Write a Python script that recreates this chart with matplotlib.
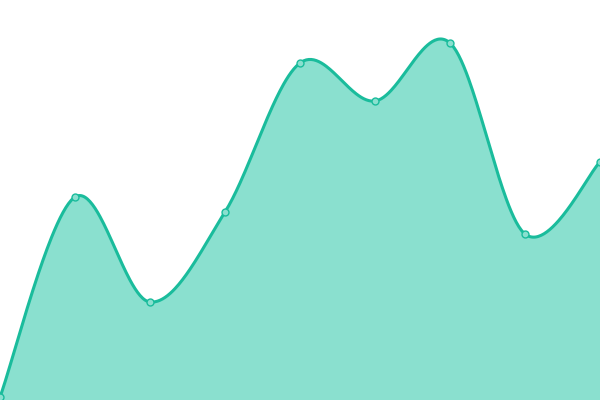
import numpy as np
import matplotlib
matplotlib.use('Agg')
from matplotlib import pyplot as plt

# data (x positions are category index)
categories = list(range(9))
values = [3, 203, 98, 188, 337, 299, 357, 166, 238]

line_color = '#1abc9c'
fill_color = '#8ae0cf'


def catmull_rom(x, y, n=60):
    x = np.asarray(x, float)
    y = np.asarray(y, float)
    xs, ys = [], []
    for i in range(len(x) - 1):
        x0, x1 = x[i], x[i + 1]
        y0, y1 = y[i], y[i + 1]
        xm = x[i - 1] if i > 0 else x0
        ym = y[i - 1] if i > 0 else y0
        xp = x[i + 2] if i + 2 < len(x) else x1
        yp = y[i + 2] if i + 2 < len(y) else y1
        # bezier control points
        c1x, c1y = x0 + (x1 - xm) / 6, y0 + (y1 - ym) / 6
        c2x, c2y = x1 - (xp - x0) / 6, y1 - (yp - y0) / 6
        t = np.linspace(0, 1, n, endpoint=False)
        b = [(1 - t) ** 3, 3 * (1 - t) ** 2 * t, 3 * (1 - t) * t ** 2, t ** 3]
        xs.append(b[0] * x0 + b[1] * c1x + b[2] * c2x + b[3] * x1)
        ys.append(b[0] * y0 + b[1] * c1y + b[2] * c2y + b[3] * y1)
    xs.append([x[-1]])
    ys.append([y[-1]])
    return np.concatenate(xs), np.concatenate(ys)


sx, sy = catmull_rom(categories, values)

fig = plt.figure(figsize=(6, 4), dpi=100)
ax = fig.add_axes([0, 0, 1, 1])
ax.fill_between(sx, sy, 0, color=fill_color, linewidth=0)
ax.plot(sx, sy, color=line_color, linewidth=2.2, solid_capstyle='round')
ax.plot(categories, values, 'o', markersize=5, markerfacecolor=fill_color,
        markeredgecolor=line_color, markeredgewidth=1)
ax.set_xlim(0, 8)
ax.set_ylim(0, 400)
ax.set_axis_off()
fig.savefig('out.png', dpi=100)
plt.close(fig)
